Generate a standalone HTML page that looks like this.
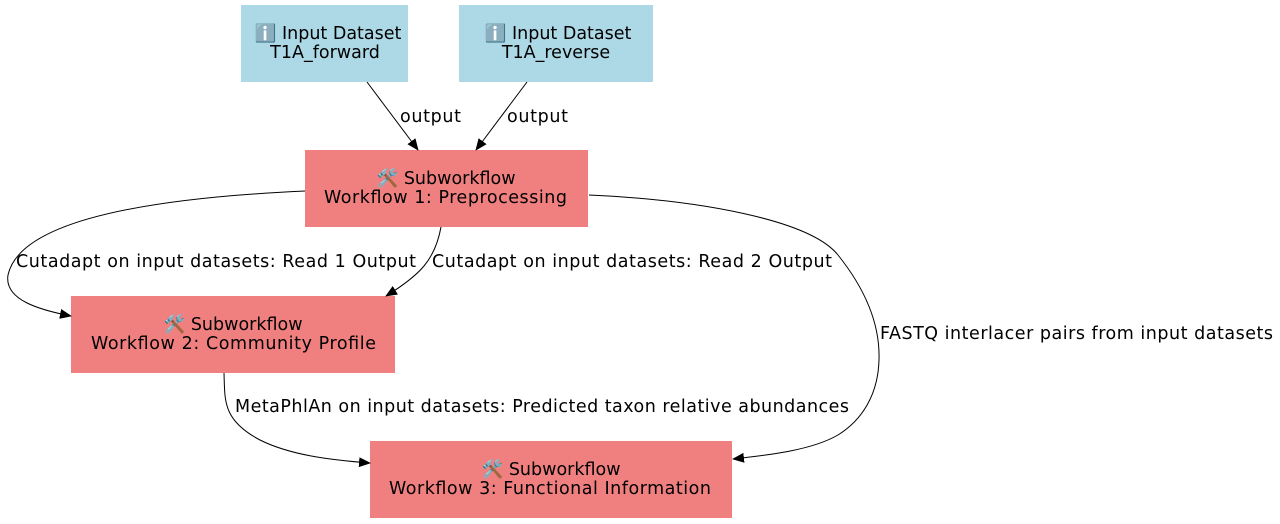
<!DOCTYPE html>
<html><head><meta charset="utf-8"><style>
html,body{margin:0;padding:0;background:#fff;}
svg{display:block;font-family:"DejaVu Sans","Liberation Sans",sans-serif;}
</style></head><body>
<svg width="1280" height="524" viewBox="0 0 1280 524" xmlns="http://www.w3.org/2000/svg">
<defs><marker id="a" markerWidth="12" markerHeight="10" refX="11" refY="5" orient="auto" markerUnits="userSpaceOnUse"><path d="M0,0 L12,5 L0,10 z" fill="#000"/></marker></defs>
<rect x="241" y="5" width="167" height="77" fill="#add8e6"/>
<rect x="459" y="5" width="194" height="77" fill="#add8e6"/>
<rect x="305" y="150" width="283" height="77" fill="#f08080"/>
<rect x="71" y="296" width="324" height="77" fill="#f08080"/>
<rect x="370" y="441" width="362" height="77" fill="#f08080"/>
<g font-size="17.5" text-anchor="middle" fill="#000">
<text x="328" y="39">ℹ️ Input Dataset</text><text x="325" y="58">T1A_forward</text>
<text x="558" y="39">ℹ️ Input Dataset</text><text x="556" y="58">T1A_reverse</text>
<text x="446" y="184">🛠️ Subworkflow</text>
<text x="233" y="330">🛠️ Subworkflow</text>
<text x="551" y="475">🛠️ Subworkflow</text>
</g>
<g font-size="17.5" fill="#000">
<text x="324" y="203" textLength="243" lengthAdjust="spacing">Workflow 1: Preprocessing</text>
<text x="91" y="349" textLength="285" lengthAdjust="spacing">Workflow 2: Community Profile</text>
<text x="389" y="494" textLength="322" lengthAdjust="spacing">Workflow 3: Functional Information</text>
<text x="400" y="122" textLength="61" lengthAdjust="spacing">output</text>
<text x="507" y="122" textLength="61" lengthAdjust="spacing">output</text>
<text x="16" y="267" textLength="400" lengthAdjust="spacing">Cutadapt on input datasets: Read 1 Output</text>
<text x="432" y="267" textLength="400" lengthAdjust="spacing">Cutadapt on input datasets: Read 2 Output</text>
<text x="880" y="339" textLength="393" lengthAdjust="spacing">FASTQ interlacer pairs from input datasets</text>
<text x="235" y="412" textLength="614" lengthAdjust="spacing">MetaPhlAn on input datasets: Predicted taxon relative abundances</text>
</g>
<g fill="none" stroke="#000" stroke-width="1" marker-end="url(#a)">
<path d="M367,82 L418,150"/>
<path d="M527,82 L476,150"/>
<path d="M305,191 C150,198 20,220 8,275 C4,300 40,310 71,316"/>
<path d="M441,227 C435,260 420,275 386,296"/>
<path d="M589,195 C700,200 810,220 838,255 C870,295 880,330 879,360 C878,395 862,420 838,435 C812,450 770,455 733,459"/>
<path d="M224,373 C225,400 222,420 260,440 C290,455 330,460 370,463"/>
</g>
</svg>
</body></html>
